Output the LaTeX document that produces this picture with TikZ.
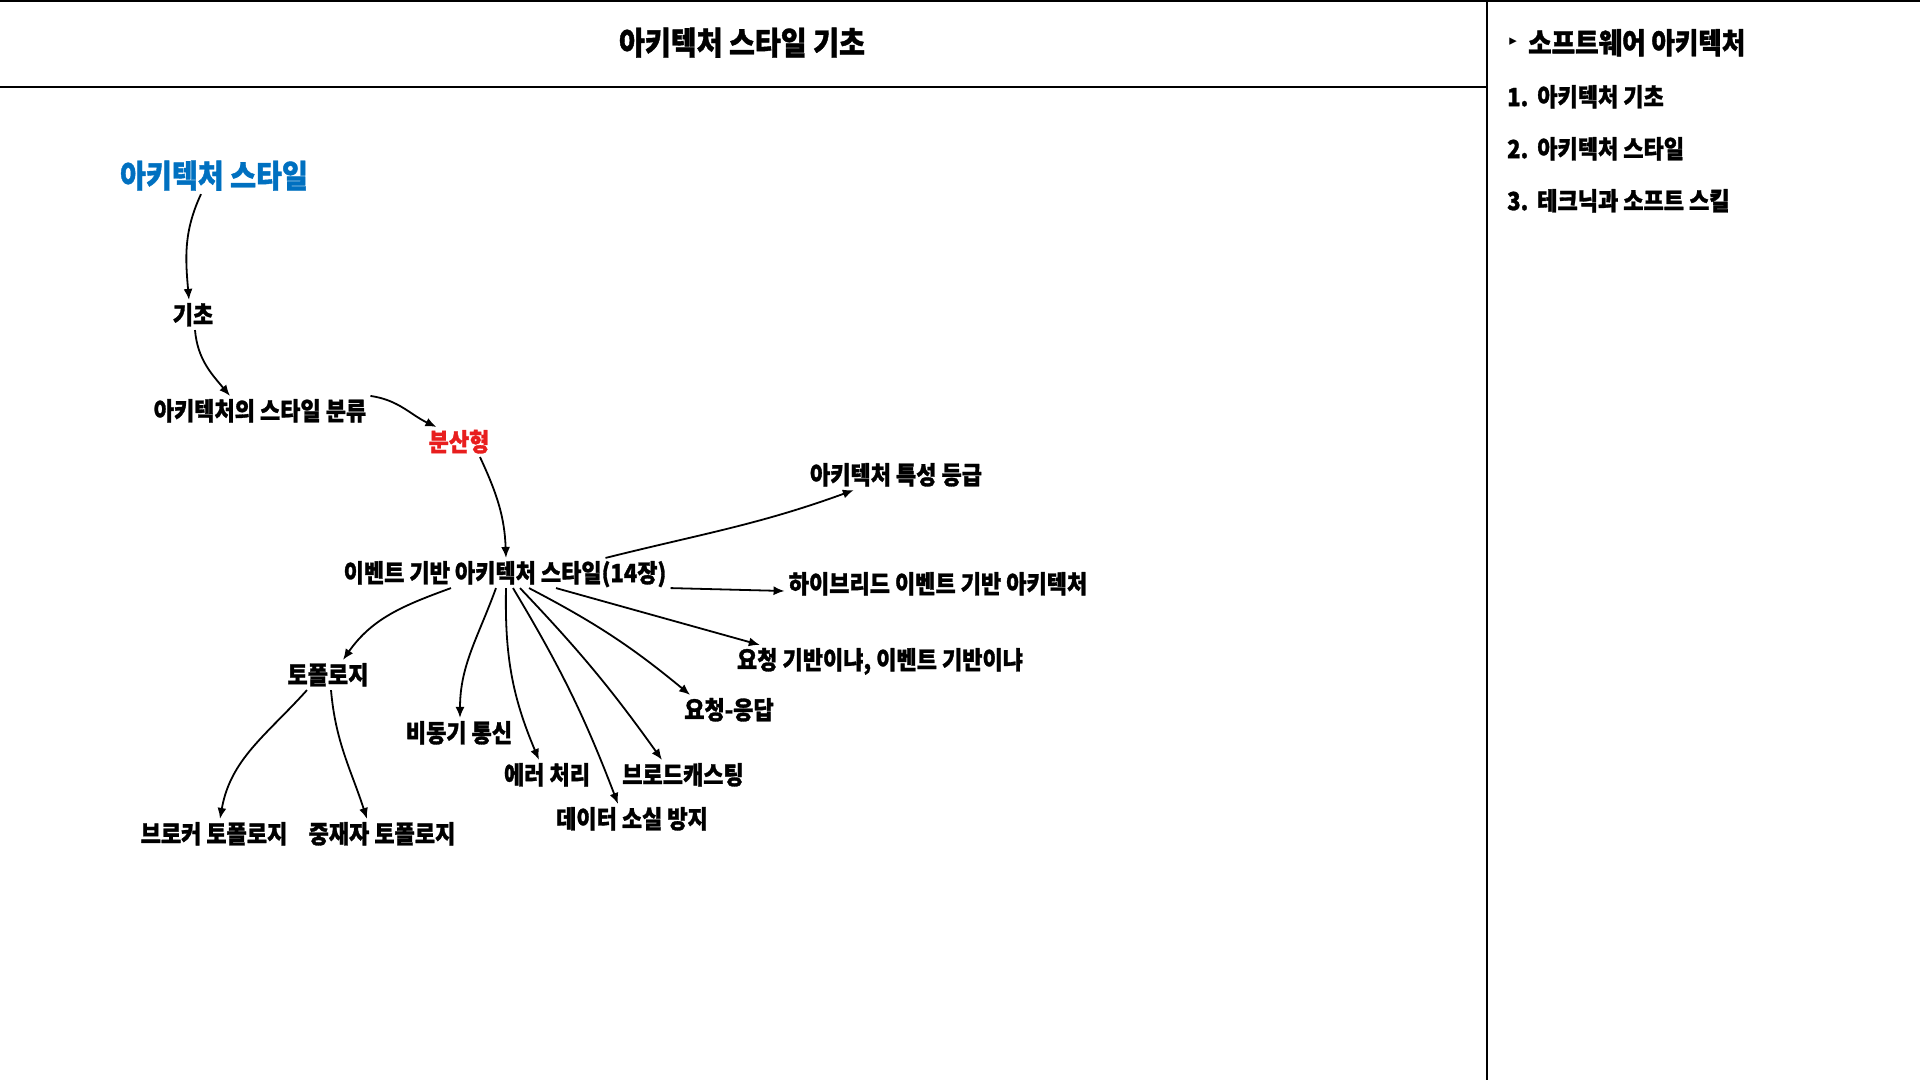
\documentclass[tikz,border=0pt]{standalone}
\usepackage{fontspec}
\setmainfont{Noto Sans CJK KR}[FakeStretch=0.88, BoldFeatures={FakeBold=1.2}]
\newfontfamily\symfont{DejaVu Sans}
\usetikzlibrary{arrows.meta}
\definecolor{styleblue}{RGB}{0,112,192}
\definecolor{distred}{RGB}{232,30,30}

\begin{document}
\begin{tikzpicture}[x=1pt, y=1pt,
  topic/.style={inner sep=4pt, text height=0.8*#1 pt, text depth=0.07*#1 pt, font=\fontsize{#1}{#1}\selectfont\bfseries},
  topic/.default=25,
  toc/.style={topic=#1, anchor=west, inner sep=0pt},
  toc/.default=25,
  link/.style={-{Latex[length=11pt,width=9pt]}, line width=1.8pt},
  frame/.style={line width=2pt}]
\useasboundingbox (0,0) rectangle (1920,-1080);

% Page frame
\draw[frame] (0,-1) -- (1920,-1);
\draw[frame] (0,-87) -- (1487,-87);
\draw[frame] (1487,0) -- (1487,-1080);

% Title
\node[topic=32] (title) at (742,-43) {아키텍처 스타일 기초};

% Side panel
\node[font=\symfont\fontsize{15}{17}\selectfont] (bullet) at (1513,-42) {▸};
\node[toc=29] (book) at (1528,-43) {소프트웨어 아키텍처};
\node[toc] (part1) at (1507,-97) {1.\hspace{9pt}아키텍처 기초};
\node[toc] (part2) at (1507,-149) {2.\hspace{9pt}아키텍처 스타일};
\node[toc] (part3) at (1507,-201) {3.\hspace{9pt}테크닉과 소프트 스킬};

% Level 0 to 3: path to the chapter
\node[topic=32, text=styleblue] (archstyle) at (214,-176) {아키텍처 스타일};
\node[topic] (basics) at (193,-315) {기초};
\node[topic] (classify) at (260,-411) {아키텍처의 스타일 분류};
\node[topic, text=distred] (dist) at (459,-442) {분산형};

% Chapter
\node[topic] (ebase) at (505,-573) {이벤트 기반 아키텍처 스타일(14장)};

% Children of the chapter
\node[topic] (grade) at (896,-475) {아키텍처 특성 등급};
\node[topic] (hybrid) at (938,-584) {하이브리드 이벤트 기반 아키텍처};
\node[topic] (reqevt) at (880,-660) {요청 기반이냐, 이벤트 기반이냐};
\node[topic] (reqres) at (729,-710) {요청-응답};
\node[topic] (topo) at (328,-675) {토폴로지};
\node[topic] (async) at (459,-733) {비동기 통신};
\node[topic] (errproc) at (547,-775) {에러 처리};
\node[topic] (bcast) at (683,-775) {브로드캐스팅};
\node[topic] (dataloss) at (632,-819) {데이터 소실 방지};

% Children of topology
\node[topic] (broker) at (214,-834) {브로커 토폴로지};
\node[topic] (mediator) at (382,-834) {중재자 토폴로지};

% Arrows down to the chapter
\draw[link] ([xshift=-13pt]archstyle.south) to[out=245, in=95] ([xshift=-4pt]basics.north);
\draw[link] ([xshift=2pt]basics.south) to[out=275, in=130] ([xshift=-30pt]classify.north);
\draw[link] (classify.north east) to[out=-8, in=155] ([xshift=12pt]dist.north west);
\draw[link] ([xshift=21pt]dist.south) to[out=-65, in=92] ([xshift=1pt]ebase.north);

% Arrows from the chapter
\draw[link] ([xshift=-65pt]ebase.north east) to[out=14, in=200] ([xshift=48pt]grade.south west);
\draw[link] (ebase.south east) -- ([yshift=-7pt]hybrid.west);
\draw[link] ([xshift=51pt]ebase.south) -- ([xshift=27pt]reqevt.north west);
\draw[link] ([xshift=24pt]ebase.south) to[bend left=6] ([xshift=10pt]reqres.north west);
\draw[link] ([xshift=15pt]ebase.south) to[bend left=4] ([xshift=-21pt]bcast.north);
\draw[link] ([xshift=8pt]ebase.south) to[bend left=5] ([xshift=-14pt]dataloss.north);
\draw[link] ([xshift=1pt]ebase.south) to[bend right=12] ([xshift=-8pt]errproc.north);
\draw[link] ([xshift=-9pt]ebase.south) to[out=250, in=90] ([xshift=1pt]async.north);
\draw[link] ([xshift=-54pt]ebase.south) to[out=200, in=55] ([xshift=15pt]topo.north);

% Arrows from topology
\draw[link] ([xshift=-21pt]topo.south) to[out=228, in=80] ([xshift=6pt]broker.north);
\draw[link] ([xshift=3pt]topo.south) to[out=275, in=108] ([xshift=-15pt]mediator.north);
\end{tikzpicture}
\end{document}
